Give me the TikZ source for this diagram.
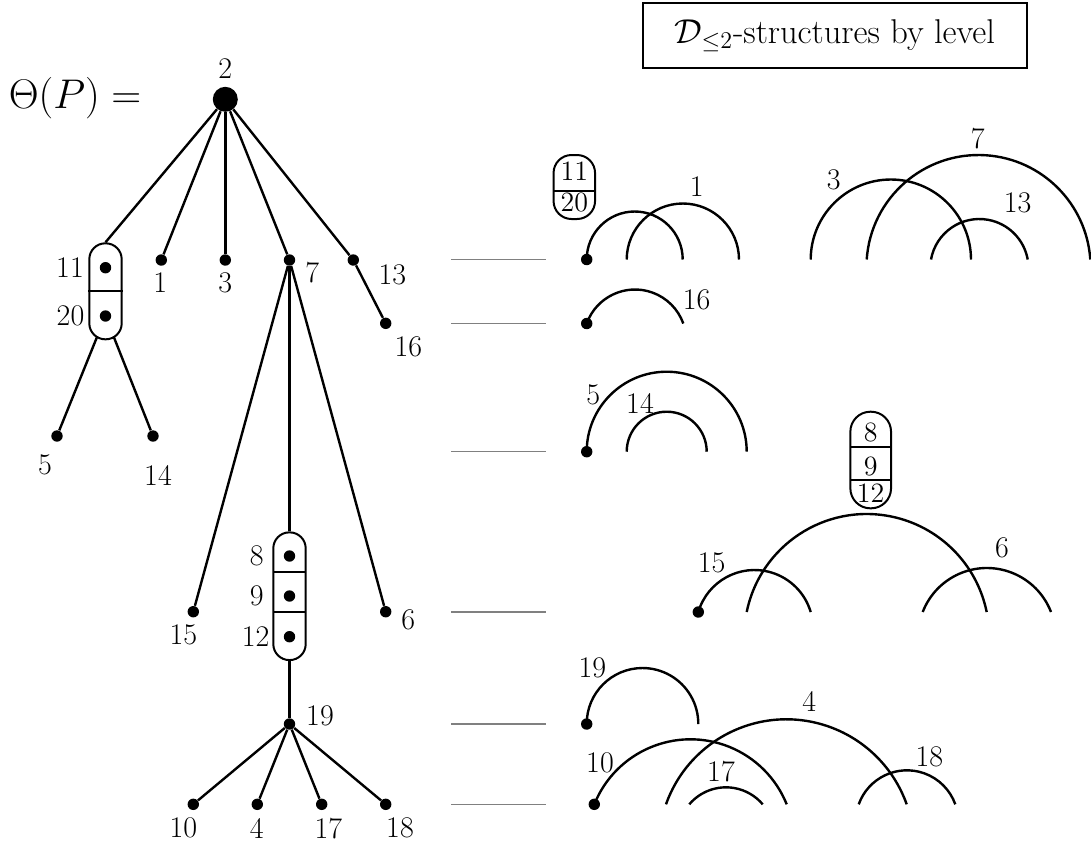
\documentclass[tikz,border=0pt]{standalone}
\pgfdeclarelayer{bg}
\pgfsetlayers{bg,main}
\tikzset{
  lbl/.style={font=\fontsize{15}{18}\selectfont, inner sep=0pt},
  slbl/.style={font=\fontsize{14}{16}\selectfont, inner sep=0pt},
  vdot/.style={circle, fill=black, minimum size=5.7pt, inner sep=0pt},
  rootdot/.style={circle, fill=black, minimum size=12.5pt, inner sep=0pt},
  edge/.style={line width=1.2pt},
  arcline/.style={line width=1.2pt},
  capsule/.style={draw, line width=1pt, fill=white, rounded corners=8pt, inner sep=0pt},
  divider/.style={line width=1pt},
  levelrule/.style={gray, line width=0.6pt},
}
\newcommand{\harc}[4]{%
  \pgfmathsetmacro\arcW{(#2-#1)/2}%
  \pgfmathsetmacro\arcR{\arcW/(2*#4)*\arcW + #4/2}%
  \pgfmathsetmacro\arcT{asin(1-#4/\arcR)}%
  \draw[arcline] (#1,#3) arc[start angle={180+\arcT}, end angle={360-\arcT}, radius=\arcR];%
}
\begin{document}
\begin{tikzpicture}[x=0.5pt, y=-0.5pt]
\useasboundingbox (0,0) rectangle (1091,843);

% title box and left formula
\node[draw, line width=1pt, minimum width=191.7pt, minimum height=32.5pt, inner sep=0pt,
      font=\fontsize{17.2}{20}\selectfont] (title) at (835,35.8) {$\mathcal{D}_{\le 2}$-structures by level};
\node[font=\fontsize{20}{24}\selectfont, inner sep=0pt] (theta) at (75,98) {$\Theta(P) =$};

% ---------- tree ----------
\node[rootdot] (r) at (225.3,99.3) {};
\node[lbl] (lr) at (225.3,68.3) {2};

\node[capsule, minimum width=16.2pt, minimum height=48pt] (capA) at (105.5,291.3) {};
\draw[divider] (capA.west) -- (capA.east);
\node[vdot] (d11) at (105.5,267.7) {};
\node[vdot] (d20) at (105.5,316) {};
\node[lbl] (l11) at (70,267.5) {11};
\node[lbl] (l20) at (70.5,316) {20};

\node[vdot] (n1) at (161.3,260) {};
\node[lbl] (l1) at (160.3,282.7) {1};
\node[vdot] (n3) at (225.3,260) {};
\node[lbl] (l3) at (225.3,282.7) {3};
\node[vdot] (n7) at (289.5,260) {};
\node[lbl] (l7) at (312.3,273) {7};
\node[vdot] (n13) at (353.3,260) {};
\node[lbl] (l13) at (392.3,275) {13};
\node[vdot] (n16) at (385.7,323.3) {};
\node[lbl] (l16) at (408.3,346.7) {16};

\node[vdot] (n5) at (57,436) {};
\node[lbl] (l5) at (45,465) {5};
\node[vdot] (n14) at (153,436) {};
\node[lbl] (l14) at (158,475) {14};

\node[capsule, minimum width=16.2pt, minimum height=63.85pt] (capB) at (289.5,596.2) {};
\draw[divider] (273.3,572.3) -- (305.7,572.3);
\draw[divider] (273.3,612.3) -- (305.7,612.3);
\node[vdot] (d8) at (289.5,556) {};
\node[vdot] (d9) at (289.5,596) {};
\node[vdot] (d12) at (289.5,636.7) {};
\node[lbl] (l8) at (256.7,556) {8};
\node[lbl] (l9) at (256.7,596) {9};
\node[lbl] (l12) at (255.7,636.7) {12};

\node[vdot] (n15) at (193.3,611.7) {};
\node[lbl] (l15) at (183.3,635) {15};
\node[vdot] (n6) at (385.7,611.7) {};
\node[lbl] (l6) at (408.3,620) {6};

\node[vdot] (n19) at (289.5,724) {};
\node[lbl] (l19) at (320,716) {19};
\node[vdot] (n10) at (193.3,804.3) {};
\node[lbl] (l10) at (183.3,828.3) {10};
\node[vdot] (n4) at (257.3,804.3) {};
\node[lbl] (l4) at (256.7,828.3) {4};
\node[vdot] (n17) at (321.7,804.3) {};
\node[lbl] (l17) at (328.3,828.3) {17};
\node[vdot] (n18) at (385.7,804.3) {};
\node[lbl] (l18) at (400,828.3) {18};

\begin{pgfonlayer}{bg}
\draw[edge] (r) -- (capA.north);
\draw[edge] (r) -- (n1);
\draw[edge] (r) -- (n3);
\draw[edge] (r) -- (n7);
\draw[edge] (r) -- (n13);
\draw[edge] (n13) -- (n16);
\draw[edge] (d20) -- (n5);
\draw[edge] (d20) -- (n14);
\draw[edge] (n7) -- (n15);
\draw[edge] (n7) -- (capB.north);
\draw[edge] (n7) -- (n6);
\draw[edge] (capB.south) -- (n19);
\draw[edge] (n19) -- (n10);
\draw[edge] (n19) -- (n4);
\draw[edge] (n19) -- (n17);
\draw[edge] (n19) -- (n18);
\end{pgfonlayer}

% ---------- level rules ----------
\foreach \yy in {259.5,323.5,451.7,612,724,804.3}
  \draw[levelrule] (451,\yy) -- (546,\yy);

% ---------- level 1 ----------
\node[capsule, rounded corners=9pt, minimum width=20.75pt, minimum height=32pt] (sA) at (574.3,187) {};
\draw[divider] (553.5,191) -- (595,191);
\node[slbl] (s11) at (574.3,171.5) {11};
\node[slbl] (s20) at (574.3,202.5) {20};
\node[vdot] (a1) at (586.7,259.5) {};
\harc{586.7}{682.7}{259.5}{48}
\harc{626.7}{739}{259.5}{56}
\harc{810.7}{971}{259.5}{80}
\harc{866.7}{1090.3}{259.5}{104.5}
\harc{931}{1027.7}{259.5}{40.5}
\node[lbl] (r1) at (696.7,186.7) {1};
\node[lbl] (r3) at (833.7,180) {3};
\node[lbl] (r7) at (977.7,138.3) {7};
\node[lbl] (r13) at (1017.7,203.3) {13};

% ---------- level 2 ----------
\node[vdot] (a2) at (586.7,323.5) {};
\harc{586.7}{683.3}{323.5}{34}
\node[lbl] (r16) at (696.7,300) {16};

% ---------- level 3 ----------
\node[vdot] (a3) at (586.7,451.7) {};
\harc{586.7}{746.7}{451.7}{80}
\harc{626.7}{706.7}{451.7}{40}
\node[lbl] (r5) at (593.3,395) {5};
\node[lbl] (r14) at (640,403.3) {14};

% ---------- level 4 ----------
\node[capsule, rounded corners=10pt, minimum width=20.35pt, minimum height=48.3pt] (sB) at (870.7,460) {};
\draw[divider] (850.3,446.7) -- (891,446.7);
\draw[divider] (850.3,480) -- (891,480);
\node[slbl] (s8) at (870.7,432.7) {8};
\node[slbl] (s9) at (870.7,466.7) {9};
\node[slbl] (s12) at (870.7,493.3) {12};
\node[vdot] (a4) at (698.3,612) {};
\harc{698.3}{810.7}{612}{42}
\harc{746.7}{986.7}{612}{98}
\harc{922.7}{1051}{612}{44}
\node[lbl] (r15) at (711.7,563.3) {15};
\node[lbl] (r6) at (1002,547.7) {6};

% ---------- level 5 ----------
\node[vdot] (a5) at (586.7,724) {};
\harc{586.7}{698.3}{724}{56}
\node[lbl] (r19) at (592.3,668.3) {19};

% ---------- level 6 ----------
\node[vdot] (a6) at (594.3,804.3) {};
\harc{594.3}{786.7}{804.3}{65}
\harc{666}{906.7}{804.3}{85}
\harc{689.3}{762.7}{804.3}{17}
\harc{858.7}{955.3}{804.3}{34}
\node[lbl] (r10) at (600,763.3) {10};
\node[lbl] (r4) at (809.3,701) {4};
\node[lbl] (r17) at (721,771.7) {17};
\node[lbl] (r18) at (929.3,756.7) {18};
\end{tikzpicture}
\end{document}
